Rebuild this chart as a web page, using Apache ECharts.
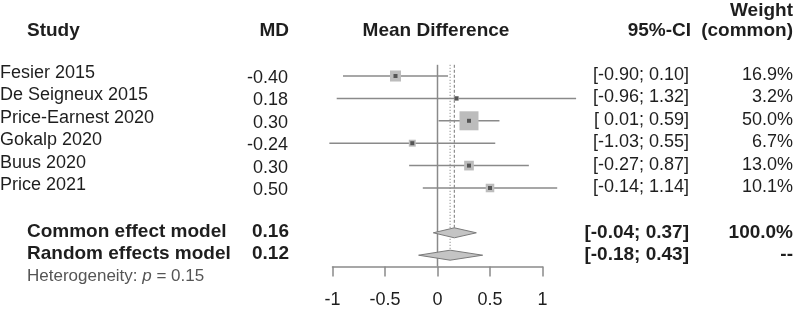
<!DOCTYPE html>
<html>
<head>
<meta charset="utf-8">
<script src="https://cdn.jsdelivr.net/npm/echarts@6/dist/echarts.min.js"></script>
<style>
  html, body { margin: 0; padding: 0; background: #fff; }
  #chart { width: 800px; height: 310px; }
</style>
</head>
<body>
<div id="chart"></div>
<script>
// studies
var studies = ['Fesier 2015', 'De Seigneux 2015', 'Price-Earnest 2020', 'Gokalp 2020', 'Buus 2020', 'Price 2021'];
var md = [-0.40, 0.18, 0.30, -0.24, 0.30, 0.50];
var ciLow = [-0.90, -0.96, 0.01, -1.03, -0.27, -0.14];
var ciHigh = [0.10, 1.32, 0.59, 0.55, 0.87, 1.14];
var weights = [16.9, 3.2, 50.0, 6.7, 13.0, 10.1];

// pooled models
var models = ['Common effect model', 'Random effects model'];
var modelMd = [0.16, 0.12];
var modelLow = [-0.04, -0.18];
var modelHigh = [0.37, 0.43];
var modelWeight = ['100.0%', '--'];
var heteroP = 0.15;

// x axis ticks
var xMin = -1, xMax = 1, xStep = 0.5;

var FONT = '"Liberation Sans", Arial, sans-serif';
var TXT = '#1e1e1e';
var GREY = '#8a8a8a';

function ci(lo, hi) {
  var a = lo >= 0 ? ' ' + lo.toFixed(2) : lo.toFixed(2);
  return '[' + a + '; ' + hi.toFixed(2) + ']';
}

function txt(x, y, s, align, bold, size, color) {
  return {
    type: 'text',
    style: {
      x: x, y: y, text: s,
      align: align, verticalAlign: 'middle',
      font: (bold ? 'bold ' : '') + (size || (bold ? 19 : 18)) + 'px ' + FONT,
      fill: color || TXT
    }
  };
}

// row index: studies 0..5, common 7, random 8
var studyRows = studies.map(function (s, i) { return [md[i], i, ciLow[i], ciHigh[i], weights[i]]; });
var modelRows = models.map(function (m, i) { return [modelMd[i], 7 + i, modelLow[i], modelHigh[i]]; });

var chart = echarts.init(document.getElementById('chart'));

var option = {
  animation: false,
  grid: { left: 332.5, width: 210, top: 8.8, height: 257.6 },
  xAxis: {
    type: 'value', min: xMin, max: xMax, interval: xStep,
    splitLine: { show: false },
    axisLine: { show: true, onZero: false, lineStyle: { color: GREY, width: 1.5 } },
    axisTick: { show: true, length: 10, lineStyle: { color: GREY, width: 1.5 } },
    axisLabel: { margin: 25, fontSize: 18, fontFamily: FONT, color: TXT }
  },
  yAxis: { type: 'value', min: -3, max: 8.5, inverse: true, show: false },
  series: [
    {
      // reference lines
      type: 'custom',
      data: [[0, -0.5, 8.5, 0], [modelMd[0], -0.5, 7, 1], [modelMd[1], -0.5, 8, 2]],
      renderItem: function (params, api) {
        var a = api.coord([api.value(0), api.value(1)]);
        var b = api.coord([api.value(0), api.value(2)]);
        var kind = api.value(3);
        return {
          type: 'line',
          shape: { x1: a[0], y1: a[1], x2: b[0], y2: b[1] },
          style: {
            stroke: kind === 0 ? GREY : '#777',
            lineWidth: kind === 0 ? 1.5 : 1,
            lineDash: kind === 1 ? [3, 2] : (kind === 2 ? [1, 2] : null)
          }
        };
      },
      clip: false, z: 1
    },
    {
      // study estimates
      type: 'custom',
      data: studyRows,
      renderItem: function (params, api) {
        var c = api.coord([api.value(0), api.value(1)]);
        var l = api.coord([api.value(2), api.value(1)]);
        var h = api.coord([api.value(3), api.value(1)]);
        var s = 19 * Math.sqrt(api.value(4) / 50);
        return {
          type: 'group',
          children: [
            { type: 'line', shape: { x1: l[0], y1: c[1], x2: h[0], y2: c[1] }, style: { stroke: GREY, lineWidth: 1.5 } },
            { type: 'rect', shape: { x: c[0] - s / 2, y: c[1] - s / 2, width: s, height: s }, style: { fill: '#bcbcbc' } },
            { type: 'rect', shape: { x: c[0] - 2, y: c[1] - 2, width: 4, height: 4 }, style: { fill: '#555' } }
          ]
        };
      },
      clip: false, z: 3
    },
    {
      // pooled diamonds
      type: 'custom',
      data: modelRows,
      renderItem: function (params, api) {
        var c = api.coord([api.value(0), api.value(1)]);
        var l = api.coord([api.value(2), api.value(1)]);
        var h = api.coord([api.value(3), api.value(1)]);
        return {
          type: 'polygon',
          shape: { points: [[l[0], c[1]], [c[0], c[1] - 5], [h[0], c[1]], [c[0], c[1] + 5]] },
          style: { fill: '#c4c4c4', stroke: '#7a7a7a', lineWidth: 1 }
        };
      },
      clip: false, z: 3
    },
    {
      // text columns for studies
      type: 'custom',
      data: studyRows,
      renderItem: function (params, api) {
        var i = params.dataIndex;
        var y = api.coord([0, api.value(1)])[1];
        return {
          type: 'group',
          children: [
            txt(0, y - 3, studies[i], 'left'),
            txt(288, y + 2, md[i].toFixed(2), 'right'),
            txt(689, y - 1, ci(ciLow[i], ciHigh[i]), 'right'),
            txt(793, y - 1, weights[i].toFixed(1) + '%', 'right')
          ]
        };
      },
      clip: false, z: 5
    },
    {
      // text columns for models
      type: 'custom',
      data: modelRows,
      renderItem: function (params, api) {
        var i = params.dataIndex;
        var y = api.coord([0, api.value(1)])[1];
        return {
          type: 'group',
          children: [
            txt(27, y - 1, models[i], 'left', true),
            txt(289, y - 1, modelMd[i].toFixed(2), 'right', true),
            txt(689, y, ci(modelLow[i], modelHigh[i]), 'right', true),
            txt(793, y, modelWeight[i], 'right', true)
          ]
        };
      },
      clip: false, z: 5
    },
    {
      // headers and heterogeneity
      type: 'custom',
      data: [[0, -2]],
      renderItem: function (params, api) {
        var yh = api.coord([0, -2])[1];
        var yw = api.coord([0, -3])[1];
        var yt = api.coord([0, 9])[1];
        return {
          type: 'group',
          children: [
            txt(27, yh, 'Study', 'left', true),
            txt(289, yh, 'MD', 'right', true),
            txt(436, yh, 'Mean Difference', 'center', true),
            txt(691, yh, '95%-CI', 'right', true),
            txt(793, yh, '(common)', 'right', true),
            txt(793, yw + 2, 'Weight', 'right', true),
            {
              type: 'text',
              style: {
                x: 27, y: yt - 1, verticalAlign: 'middle', align: 'left',
                text: '{a|Heterogeneity: }{b|p}{a| = ' + heteroP.toFixed(2) + '}',
                rich: {
                  a: { fontSize: 17, fontFamily: FONT, fill: '#555' },
                  b: { fontSize: 17, fontFamily: FONT, fill: '#555', fontStyle: 'italic' }
                }
              }
            }
          ]
        };
      },
      clip: false, z: 5
    }
  ]
};

chart.setOption(option);
</script>
</body>
</html>
